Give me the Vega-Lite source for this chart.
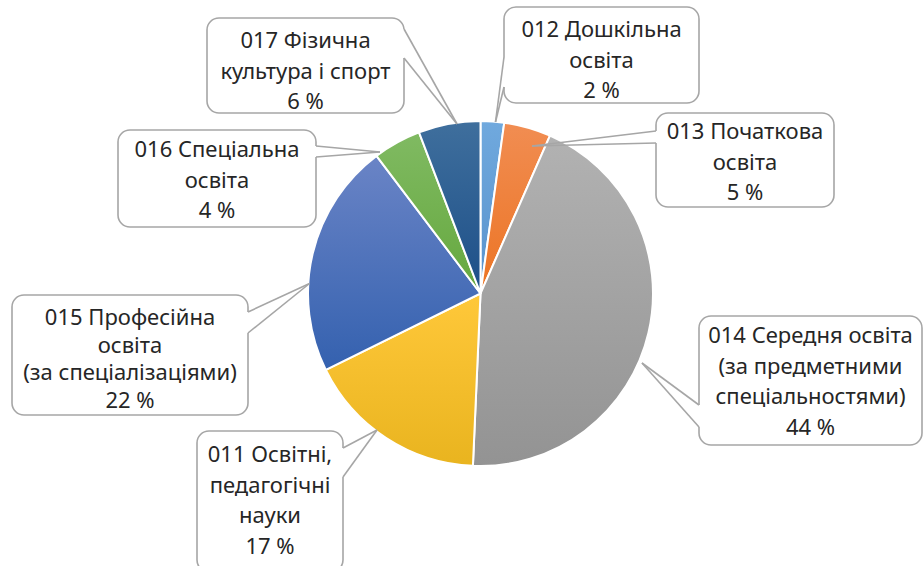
{
  "$schema": "https://vega.github.io/schema/vega-lite/v6.json",
  "autosize": "none",
  "width": 345,
  "height": 345,
  "padding": {"left": 308, "top": 121, "right": 270, "bottom": 100},
  "background": "white",
  "config": {"view": {"stroke": null}},
  "datasets": {
    "slices": [
      {"code": "012", "name": "Дошкільна освіта", "share": 2.2, "ord": 1},
      {"code": "013", "name": "Початкова освіта", "share": 4.4, "ord": 2},
      {"code": "014", "name": "Середня освіта (за предметними спеціальностями)", "share": 44.1, "ord": 3},
      {"code": "011", "name": "Освітні, педагогічні науки", "share": 17.0, "ord": 4},
      {"code": "015", "name": "Професійна освіта (за спеціалізаціями)", "share": 22.0, "ord": 5},
      {"code": "016", "name": "Спеціальна освіта", "share": 4.5, "ord": 6},
      {"code": "017", "name": "Фізична культура і спорт", "share": 5.8, "ord": 7}
    ],
    "callouts": [
      {"code": "017", "label": "017 Фізична\nкультура і спорт\n6 %", "x1": -273.5, "x2": -76.5, "y1": 275.5, "y2": 180.5, "ax": -76.5, "ay": 264.5, "bx": -76.5, "by": 235.5, "tipx": -23.5, "tipy": 169.5, "lx": -175, "ly": 245.5},
      {"code": "012", "label": "012 Дошкільна\nосвіта\n2 %", "x1": 23.5, "x2": 218.5, "y1": 286.5, "y2": 190.5, "ax": 23.5, "ay": 236.5, "bx": 23.5, "by": 206.5, "tipx": 15, "tipy": 171.5, "lx": 121, "ly": 256.5},
      {"code": "013", "label": "013 Початкова\nосвіта\n5 %", "x1": 175.5, "x2": 353.5, "y1": 180.5, "y2": 86.5, "ax": 175.5, "ay": 162.5, "bx": 175.5, "by": 150.5, "tipx": 51.5, "tipy": 147.5, "lx": 264.5, "ly": 154.5},
      {"code": "016", "label": "016 Спеціальна\nосвіта\n4 %", "x1": -362.5, "x2": -164.5, "y1": 163.5, "y2": 66.5, "ax": -164.5, "ay": 147.5, "bx": -164.5, "by": 136.5, "tipx": -100.5, "tipy": 141.5, "lx": -263.5, "ly": 136.5},
      {"code": "015", "label": "015 Професійна\nосвіта\n(за спеціалізаціями)\n22 %", "x1": -468.5, "x2": -232.5, "y1": -1.5, "y2": -121.5, "ax": -232.5, "ay": -18.5, "bx": -232.5, "by": -39.5, "tipx": -171, "tipy": 10, "lx": -350.5, "ly": -31.5},
      {"code": "011", "label": "011 Освітні,\nпедагогічні\nнауки\n17 %", "x1": -283.5, "x2": -137.5, "y1": -137.5, "y2": -278.5, "ax": -137.5, "ay": -154.5, "bx": -137.5, "by": -183.5, "tipx": -103.5, "tipy": -136.5, "lx": -210.5, "ly": -168.5},
      {"code": "014", "label": "014 Середня освіта\n(за предметними\nспеціальностями)\n44 %", "x1": 218.5, "x2": 441.5, "y1": -22.5, "y2": -151.5, "ax": 218.5, "ay": -111.5, "bx": 218.5, "by": -133.5, "tipx": 161.5, "tipy": -69.5, "lx": 330, "ly": -49.5}
    ]
  },
  "layer": [
    {
      "data": {"name": "slices"},
      "mark": {"type": "arc", "stroke": "white", "strokeWidth": 2},
      "encoding": {
        "theta": {"field": "share", "type": "quantitative", "stack": true},
        "order": {"field": "ord", "type": "quantitative"},
        "detail": {"field": "code", "type": "nominal"},
        "fill": {
          "condition": [
            {"test": "datum.code === '012'", "value": {"gradient": "linear", "x1": 0, "y1": 0, "x2": 0, "y2": 1, "stops": [{"offset": 0, "color": "#70a9de"}, {"offset": 1, "color": "#5892cc"}]}},
            {"test": "datum.code === '013'", "value": {"gradient": "linear", "x1": 0, "y1": 0, "x2": 0, "y2": 1, "stops": [{"offset": 0, "color": "#f18d52"}, {"offset": 1, "color": "#ec7424"}]}},
            {"test": "datum.code === '014'", "value": {"gradient": "linear", "x1": 0, "y1": 0, "x2": 0, "y2": 1, "stops": [{"offset": 0, "color": "#b2b2b2"}, {"offset": 1, "color": "#939393"}]}},
            {"test": "datum.code === '011'", "value": {"gradient": "linear", "x1": 0, "y1": 0, "x2": 0, "y2": 1, "stops": [{"offset": 0, "color": "#ffc83a"}, {"offset": 1, "color": "#e9b41f"}]}},
            {"test": "datum.code === '015'", "value": {"gradient": "linear", "x1": 0, "y1": 0, "x2": 0, "y2": 1, "stops": [{"offset": 0, "color": "#6a84c6"}, {"offset": 1, "color": "#3461af"}]}},
            {"test": "datum.code === '016'", "value": {"gradient": "linear", "x1": 0, "y1": 0, "x2": 0, "y2": 1, "stops": [{"offset": 0, "color": "#80ba62"}, {"offset": 1, "color": "#65a83e"}]}}
          ],
          "value": {"gradient": "linear", "x1": 0, "y1": 0, "x2": 0, "y2": 1, "stops": [{"offset": 0, "color": "#3f6f9d"}, {"offset": 1, "color": "#1d4f88"}]}
        }
      }
    },
    {
      "data": {"name": "callouts"},
      "mark": {"type": "rect", "fill": "white", "stroke": "#a6a6a6", "strokeWidth": 1.6, "cornerRadius": 12},
      "encoding": {
        "x": {"field": "x1", "type": "quantitative", "scale": {"domain": [-172.5, 172.5], "nice": false, "zero": false}, "axis": null},
        "x2": {"field": "x2"},
        "y": {"field": "y1", "type": "quantitative", "scale": {"domain": [-172.5, 172.5], "nice": false, "zero": false}, "axis": null},
        "y2": {"field": "y2"}
      }
    },
    {
      "data": {"name": "callouts"},
      "mark": {"type": "rule", "stroke": "white", "strokeWidth": 3},
      "encoding": {
        "x": {"field": "ax", "type": "quantitative"},
        "y": {"field": "ay", "type": "quantitative"},
        "x2": {"field": "bx"},
        "y2": {"field": "by"}
      }
    },
    {
      "data": {"name": "callouts"},
      "mark": {"type": "rule", "stroke": "#a6a6a6", "strokeWidth": 1.6},
      "encoding": {
        "x": {"field": "ax", "type": "quantitative"},
        "y": {"field": "ay", "type": "quantitative"},
        "x2": {"field": "tipx"},
        "y2": {"field": "tipy"}
      }
    },
    {
      "data": {"name": "callouts"},
      "mark": {"type": "rule", "stroke": "#a6a6a6", "strokeWidth": 1.6},
      "encoding": {
        "x": {"field": "bx", "type": "quantitative"},
        "y": {"field": "by", "type": "quantitative"},
        "x2": {"field": "tipx"},
        "y2": {"field": "tipy"}
      }
    },
    {
      "data": {"name": "callouts"},
      "transform": [{"filter": "datum.code !== '015'"}],
      "mark": {"type": "text", "font": "Noto Sans", "fontSize": 22, "color": "#262626", "align": "center", "baseline": "alphabetic", "lineBreak": "\n", "lineHeight": 30.5},
      "encoding": {
        "x": {"field": "lx", "type": "quantitative"},
        "y": {"field": "ly", "type": "quantitative"},
        "text": {"field": "label"}
      }
    },
    {
      "data": {"name": "callouts"},
      "transform": [{"filter": "datum.code === '015'"}],
      "mark": {"type": "text", "font": "Noto Sans", "fontSize": 22, "color": "#262626", "align": "center", "baseline": "alphabetic", "lineBreak": "\n", "lineHeight": 27.5},
      "encoding": {
        "x": {"field": "lx", "type": "quantitative"},
        "y": {"field": "ly", "type": "quantitative"},
        "text": {"field": "label"}
      }
    }
  ]
}
